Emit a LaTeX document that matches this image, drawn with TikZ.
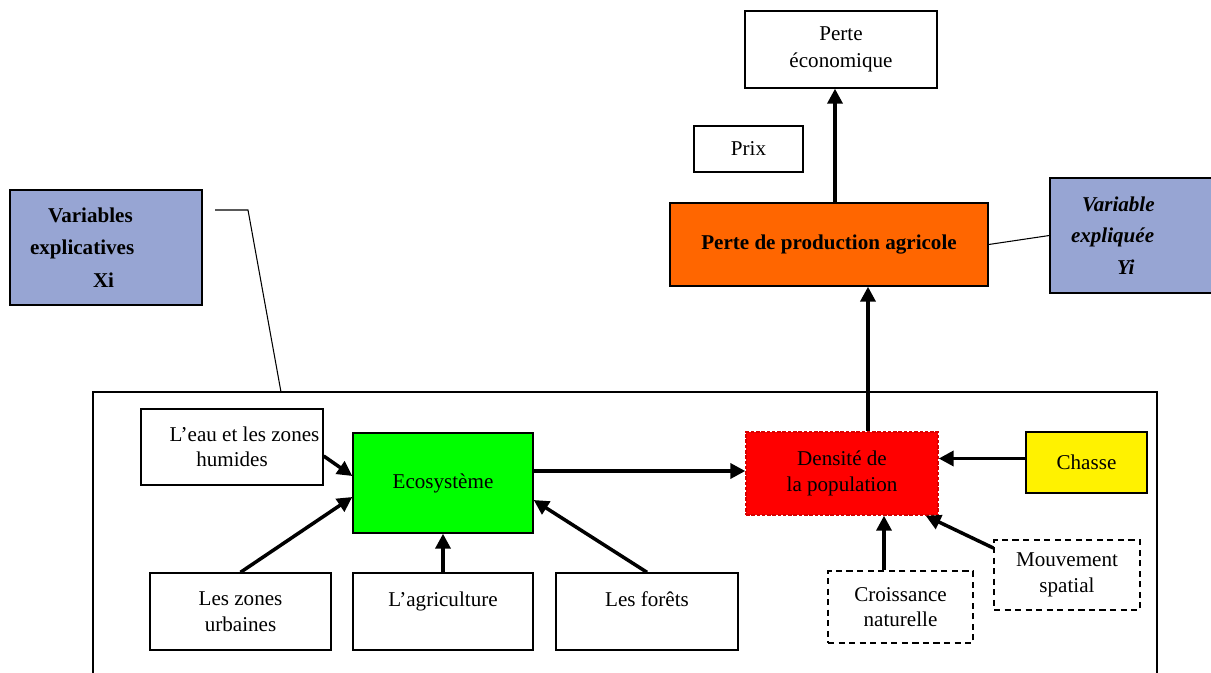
\documentclass[tikz,border=0pt]{standalone}
\usepackage{fontspec}
\setmainfont{Liberation Serif}
\usetikzlibrary{arrows.meta}
\definecolor{bleuvar}{RGB}{151,165,211}
\definecolor{orangeprod}{RGB}{255,102,0}
\tikzset{
  boite/.style={draw, line width=0.8pt, inner sep=0pt, align=center,
    font=\fontsize{12}{14.5}\selectfont},
  pointille/.style={boite, dash pattern=on 3.5pt off 2.5pt},
  boitevar/.style={draw, line width=0.8pt, fill=bleuvar, inner xsep=0.4cm,
    align=left, text width=3.04cm, minimum height=2.3cm,
    font=\bfseries\fontsize{12}{18.4}\selectfont},
  fleche/.style={-{Triangle[length=8.5pt,width=8.5pt]}, line width=2pt},
  trait/.style={line width=0.6pt}
}
\begin{document}
\begin{tikzpicture}[x=0.02cm,y=-0.02cm]
\useasboundingbox (0,0) rectangle (1211,673);
% cadre des variables explicatives
\draw[line width=1.1pt] (93,673) -- (93,392) -- (1157,392) -- (1157,673);
\coordinate (cadre) at (281,392);
\coordinate (coude) at (248,210);
\coordinate (debut) at (215,210);
% variables
\node[boitevar] (varx) at (106,247.5) {\hspace*{0.36cm}Variables\\explicatives\\\hspace*{1.26cm}Xi};
\node[boitevar, font=\bfseries\itshape\fontsize{12}{18}\selectfont, inner xsep=0.42cm] (vary) at (1147,235.5)
  {\hspace*{0.22cm}Variable\\expliquée\\\hspace*{0.92cm}Yi};
% haut
\node[boite, minimum width=3.84cm, minimum height=1.54cm, font=\fontsize{12}{15}\selectfont] (perteeco) at (841,49.5) {Perte\\économique};
\node[boite, minimum width=2.18cm, minimum height=0.92cm] (prix) at (748.5,149) {Prix};
\node[boite, fill=orangeprod, minimum width=6.36cm, minimum height=1.66cm,
  font=\bfseries\fontsize{12}{14.5}\selectfont] (perteprod) at (829,244.5) {Perte de production agricole};
% bas
\node[boite, fill=green, minimum width=3.6cm, minimum height=2cm] (eco) at (443,483) {Ecosystème};
\node[boite, minimum width=3.64cm, minimum height=1.52cm] (eau) at (232,447) {\hspace*{0.5cm}L’eau et les zones\\humides};
\node[boite, minimum width=3.62cm, minimum height=1.54cm] (urb) at (240.5,611.5) {Les zones\\urbaines};
\node[boite, minimum width=3.6cm, minimum height=1.54cm] (agri) at (443,611.5) {L’agriculture\\\mbox{}};
\node[boite, minimum width=3.64cm, minimum height=1.54cm] (foret) at (647,611.5) {Les forêts\\\mbox{}};
\node[boite, fill=red, draw=red!85!black, dash pattern=on 2pt off 1pt, minimum width=3.84cm, minimum height=1.66cm] (dens) at (842,473.5) {Densité de\\la population};
\node[boite, fill=yellow, minimum width=2.42cm, minimum height=1.22cm] (chasse) at (1086.5,462.5) {Chasse};
\node[pointille, minimum width=2.9cm, minimum height=1.44cm] (crois) at (900.5,607) {Croissance\\naturelle};
\node[pointille, minimum width=2.92cm, minimum height=1.4cm] (mouv) at (1067,575) {Mouvement\\spatial};
% liaisons
\draw[trait] (debut) -- (coude) -- (cadre);
\draw[trait] (perteprod.east) -- (vary.west);
\draw[fleche] ([xshift=0.12cm]perteprod.north) -- ([xshift=0.12cm]perteprod.north |- perteeco.south);
\draw[fleche] ([xshift=0.52cm]dens.north) -- ([xshift=0.52cm]dens.north |- perteprod.south);
\draw[fleche] ([yshift=0.24cm]eco.east) -- ([yshift=0.24cm]eco.east -| dens.west);
\draw[fleche] ([yshift=0.08cm]chasse.west) -- ([yshift=0.08cm]chasse.west -| dens.east);
\draw[fleche] ([xshift=-0.33cm]crois.north) -- ([xshift=-0.33cm]crois.north |- dens.south);
\draw[fleche] ([yshift=0.54cm]mouv.west) -- ([xshift=-0.26cm]dens.south east);
\draw[fleche] ([yshift=-0.18cm]eau.east) -- ([yshift=0.14cm]eco.west);
\draw[fleche] (urb.north) -- ([yshift=-0.28cm]eco.west);
\draw[fleche] (agri.north) -- (eco.south);
\draw[fleche] (foret.north) -- ([yshift=-0.34cm]eco.east);
\end{tikzpicture}
\end{document}
